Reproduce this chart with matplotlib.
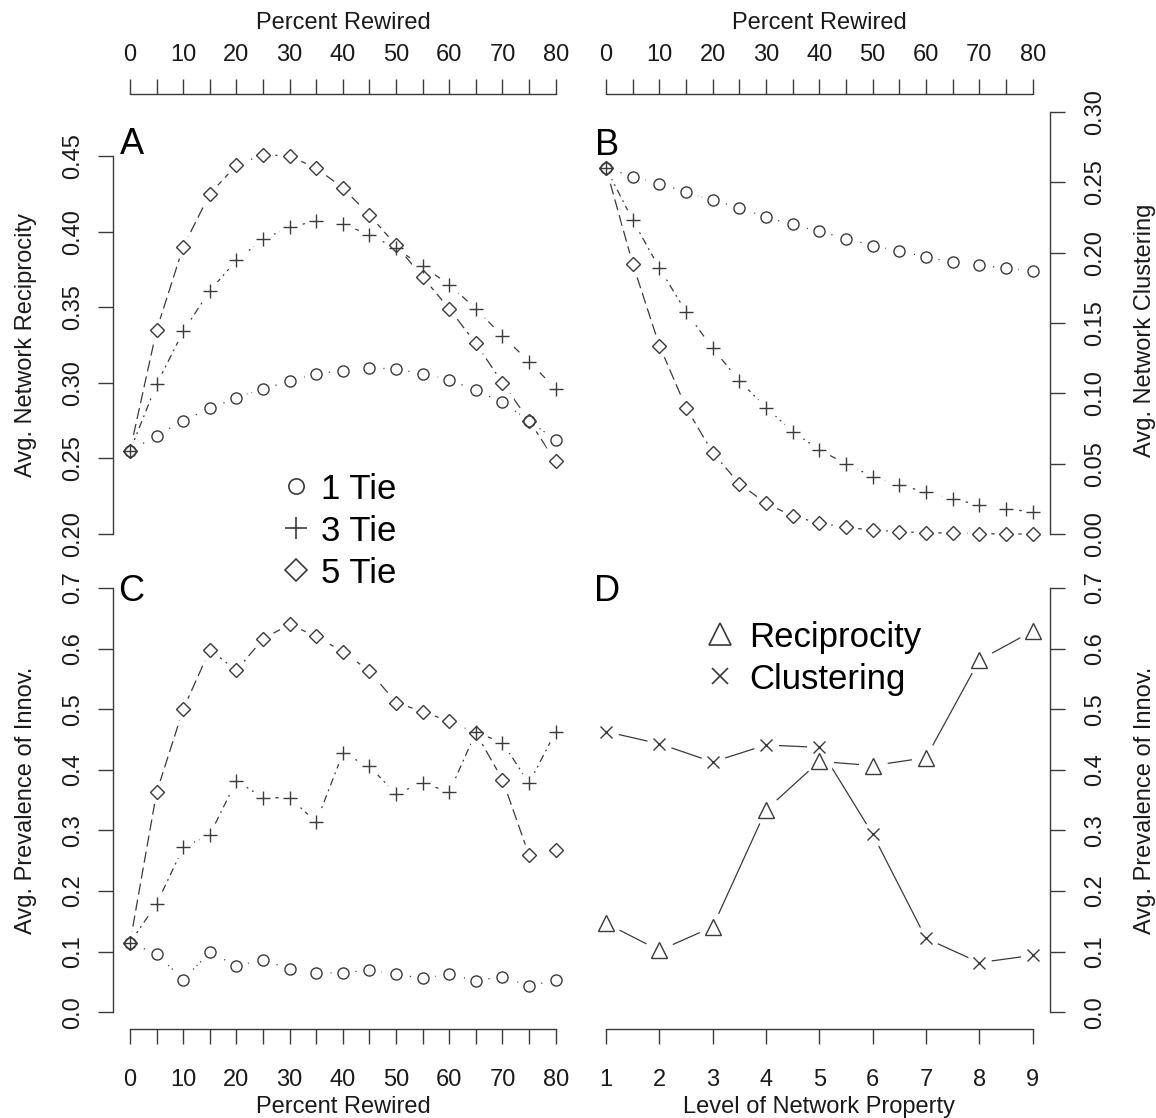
import numpy as np
import matplotlib.pyplot as plt
from matplotlib.lines import Line2D

plt.rcParams['font.family'] = ['Liberation Sans', 'DejaVu Sans']

W, H = 1156, 1118

# x values
rewired = np.arange(0, 85, 5)
levels = np.arange(1, 10)
tie_labels = ['1 Tie', '3 Tie', '5 Tie']
level_labels = ['Reciprocity', 'Clustering']

# A: avg. network reciprocity
recip_1 = [0.255, 0.265, 0.275, 0.283, 0.290, 0.296, 0.301, 0.306, 0.308,
           0.310, 0.309, 0.306, 0.302, 0.295, 0.287, 0.275, 0.262]
recip_3 = [0.255, 0.299, 0.334, 0.361, 0.381, 0.395, 0.403, 0.407, 0.405,
           0.398, 0.389, 0.377, 0.365, 0.349, 0.331, 0.314, 0.296]
recip_5 = [0.255, 0.335, 0.390, 0.425, 0.444, 0.451, 0.450, 0.442, 0.429,
           0.411, 0.391, 0.370, 0.349, 0.326, 0.300, 0.275, 0.248]

# B: avg. network clustering
clust_1 = [0.260, 0.254, 0.249, 0.243, 0.237, 0.232, 0.225, 0.220, 0.215,
           0.210, 0.205, 0.201, 0.197, 0.193, 0.191, 0.189, 0.187]
clust_3 = [0.260, 0.223, 0.189, 0.158, 0.132, 0.109, 0.090, 0.073, 0.060,
           0.050, 0.041, 0.035, 0.030, 0.025, 0.021, 0.018, 0.016]
clust_5 = [0.260, 0.192, 0.134, 0.090, 0.058, 0.036, 0.022, 0.013, 0.008,
           0.005, 0.003, 0.002, 0.001, 0.001, 0.0005, 0.0003, 0.0002]

# C: avg. prevalence of innovation
prev_1 = [0.115, 0.096, 0.054, 0.099, 0.077, 0.086, 0.072, 0.065, 0.065,
          0.070, 0.063, 0.056, 0.063, 0.052, 0.059, 0.043, 0.054]
prev_3 = [0.115, 0.179, 0.272, 0.293, 0.382, 0.354, 0.354, 0.314, 0.427,
          0.406, 0.360, 0.379, 0.363, 0.462, 0.445, 0.378, 0.463]
prev_5 = [0.115, 0.363, 0.500, 0.598, 0.564, 0.616, 0.640, 0.620, 0.595,
          0.563, 0.511, 0.496, 0.480, 0.461, 0.384, 0.259, 0.267]

# D: prevalence by level of network property
level_recip = [0.147, 0.102, 0.141, 0.334, 0.414, 0.407, 0.420, 0.581, 0.629]
level_clust = [0.463, 0.443, 0.413, 0.441, 0.437, 0.294, 0.122, 0.082, 0.094]

recip_ticks = [0.20, 0.25, 0.30, 0.35, 0.40, 0.45]
clust_ticks = [0.00, 0.05, 0.10, 0.15, 0.20, 0.25, 0.30]
prev_ticks = [0.0, 0.1, 0.2, 0.3, 0.4, 0.5, 0.6, 0.7]

ink = '#3a3a3a'
txt = '#1a1a1a'
tie_markers = ['o', '+', 'D']
tie_ms = [8, 10.7, 7.1]
tie_ls = [(0, (1, 3)), (0, (1.5, 3.5, 6, 3.5)), (0, (9, 4))]

fig = plt.figure(figsize=(W / 100, H / 100), dpi=100)


def box(x0, y0, x1, y1):
    # pixel box, origin top-left -> figure fraction
    return [x0 / W, 1 - y1 / H, (x1 - x0) / W, (y1 - y0) / H]


def draw(ax, x, y, marker, ms, ls, gap=17):
    # R-style type="b": line broken around each point
    ax.plot(x, y, color=ink, lw=0.9, ls=ls, zorder=2)
    ax.plot(x, y, ls='none', marker='o', ms=gap, mfc='white', mec='none', zorder=3)
    ax.plot(x, y, ls='none', marker=marker, ms=ms, mfc='none', mec=ink, mew=1.0, zorder=4)


def style(ax, xside, yside, xoff, xticks, xlabels, yticks, ylabels, xpad):
    for s in ['top', 'bottom', 'left', 'right']:
        ax.spines[s].set_visible(s in (xside, yside))
        ax.spines[s].set_color(ink)
        ax.spines[s].set_linewidth(1.0)
    ax.spines[xside].set_position(('outward', xoff))
    ax.spines[xside].set_bounds(xticks[0], xticks[-1])
    ax.spines[yside].set_bounds(yticks[0], yticks[-1])
    ax.set_xticks(xticks, xlabels)
    ax.set_yticks(yticks, ylabels)
    ax.xaxis.set_ticks_position(xside)
    ax.yaxis.set_ticks_position(yside)
    ax.tick_params(axis='both', direction='out', length=10.8, width=1.0,
                   color=ink, labelsize=17, labelcolor=txt)
    ax.tick_params(axis='x', pad=xpad)
    ypad = 9.7 if yside == 'left' else 13.7
    ax.tick_params(axis='y', pad=ypad, labelrotation=90)
    for lab in ax.get_yticklabels():
        lab.set_va('center')
    ax.patch.set_visible(False)


axA = fig.add_axes(box(113, 141, 572.7, 549))
axB = fig.add_axes(box(589, 110.3, 1049.7, 549))
axC = fig.add_axes(box(113, 571, 572.7, 1029.3))
axD = fig.add_axes(box(589, 571, 1049.7, 1029.3))

for ax, series in [(axA, [recip_1, recip_3, recip_5]),
                   (axB, [clust_1, clust_3, clust_5]),
                   (axC, [prev_1, prev_3, prev_5])]:
    for y, m, ms, ls in zip(series, tie_markers, tie_ms, tie_ls):
        draw(ax, rewired, y, m, ms, ls)
    ax.set_xlim(-3.2, 83.2)

draw(axD, levels, level_recip, '^', 12, '-', gap=21)
draw(axD, levels, level_clust, 'x', 8.6, '-', gap=18)
axD.set_xlim(0.68, 9.32)

axA.set_ylim(0.19, 0.46)
axB.set_ylim(-0.0104, 0.301)
axC.set_ylim(-0.028, 0.728)
axD.set_ylim(-0.028, 0.728)

rew_labels = [str(v) if v % 10 == 0 else '' for v in rewired]
style(axA, 'top', 'left', 33.8, list(rewired), rew_labels,
      recip_ticks, ['%.2f' % v for v in recip_ticks], 9.7)
style(axB, 'top', 'right', 11.7, list(rewired), rew_labels,
      clust_ticks, ['%.2f' % v for v in clust_ticks], 9.7)
style(axC, 'bottom', 'left', 0, list(rewired), rew_labels,
      prev_ticks, ['%.1f' % v for v in prev_ticks], 18)
style(axD, 'bottom', 'right', 0, list(levels), [str(v) for v in levels],
      prev_ticks, ['%.1f' % v for v in prev_ticks], 18)

# axis titles
fs = 17
fig.text(343 / W, 1 - 23 / H, 'Percent Rewired', fontsize=fs, color=txt, ha='center', va='center')
fig.text(819 / W, 1 - 23 / H, 'Percent Rewired', fontsize=fs, color=txt, ha='center', va='center')
fig.text(343 / W, 1 - 1107 / H, 'Percent Rewired', fontsize=fs, color=txt, ha='center', va='center')
fig.text(819 / W, 1 - 1107 / H, 'Level of Network Property', fontsize=fs, color=txt, ha='center', va='center')
fig.text(26.4 / W, 1 - 345 / H, 'Avg. Network Reciprocity', fontsize=fs, color=txt,
         rotation=90, ha='center', va='center')
fig.text(1145.4 / W, 1 - 330 / H, 'Avg. Network Clustering', fontsize=fs, color=txt,
         rotation=90, ha='center', va='center')
fig.text(26.4 / W, 1 - 800 / H, 'Avg. Prevalence of Innov.', fontsize=fs, color=txt,
         rotation=90, ha='center', va='center')
fig.text(1145.4 / W, 1 - 800 / H, 'Avg. Prevalence of Innov.', fontsize=fs, color=txt,
         rotation=90, ha='center', va='center')

# panel letters
for letter, px, py in [('A', 132, 141), ('B', 607, 141.5), ('C', 131, 588), ('D', 607, 588)]:
    fig.text(px / W, 1 - (py + 3.6) / H, letter, fontsize=26, color='black',
             ha='center', va='center')

# legends
leg_ms_tie = [11, 16, 10.9]
for i, (lab, m, ms) in enumerate(zip(tie_labels, tie_markers, leg_ms_tie)):
    yy = 486 + 42 * i
    fig.add_artist(Line2D([296 / W], [1 - yy / H], marker=m, ms=ms, mfc='none', mec=ink,
                          mew=1.2, ls='none', transform=fig.transFigure))
    fig.text(321 / W, 1 - (yy + 3.5) / H, lab, fontsize=25, color='black', ha='left', va='center')

for i, (lab, m, ms) in enumerate(zip(level_labels, ['^', 'x'], [16.5, 12])):
    yy = 634 + 42 * i
    fig.add_artist(Line2D([720 / W], [1 - yy / H], marker=m, ms=ms, mfc='none', mec=ink,
                          mew=1.2, ls='none', transform=fig.transFigure))
    fig.text(749 / W, 1 - (yy + 3.5) / H, lab, fontsize=25, color='black', ha='left', va='center')

fig.savefig('out.png', dpi=100, facecolor='white')
